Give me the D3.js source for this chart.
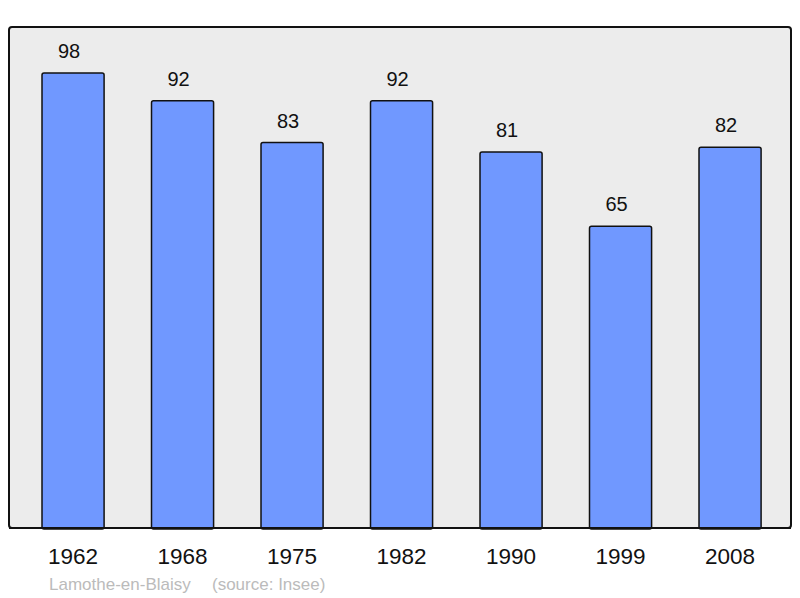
<!DOCTYPE html>
<html><head><meta charset="utf-8">
<script src="https://cdn.jsdelivr.net/npm/d3@7"></script>
<style>body{margin:0;background:#fff}svg{display:block}</style>
</head><body>
<script>
const years = ["1962","1968","1975","1982","1990","1999","2008"];
const population = [98, 92, 83, 92, 81, 65, 82];
const place = "Lamothe-en-Blaisy";
const source = "(source: Insee)";

const W = 800, H = 598;
const frame = {x0: 9, x1: 791, y0: 27, y1: 528};
const svg = d3.select("body").append("svg").attr("width", W).attr("height", H);

svg.append("rect").attr("x", frame.x0).attr("y", frame.y0)
  .attr("width", frame.x1 - frame.x0).attr("height", frame.y1 - frame.y0)
  .attr("rx", 3).attr("fill", "#ececec").attr("stroke", "#111").attr("stroke-width", 2);

const x = d3.scaleBand().domain(years).range([18.3, 784.8]).paddingInner(0.433).paddingOuter(0.2165);
const y = d3.scaleLinear().domain([0, 107.9]).range([frame.y1, frame.y0]);

const data = years.map((yr, i) => ({yr, v: population[i]}));

svg.selectAll("rect.bar").data(data).enter().append("rect").attr("class", "bar")
  .attr("x", d => x(d.yr)).attr("y", d => y(d.v))
  .attr("width", x.bandwidth()).attr("height", d => y(0) - y(d.v) + 1)
  .attr("rx", 2).attr("fill", "#7098ff").attr("stroke", "#111").attr("stroke-width", 1.5);

svg.append("line").attr("x1", frame.x0).attr("x2", frame.x1).attr("y1", frame.y1).attr("y2", frame.y1)
  .attr("stroke", "#111").attr("stroke-width", 2);

svg.selectAll("text.val").data(data).enter().append("text").attr("class", "val")
  .attr("x", d => x(d.yr) + x.bandwidth() / 2 - 4).attr("y", d => y(d.v) - 15)
  .attr("text-anchor", "middle").attr("font-family", "Liberation Sans, Arial, sans-serif")
  .attr("font-size", 20).attr("fill", "#111").text(d => d.v);

svg.selectAll("text.yr").data(data).enter().append("text").attr("class", "yr")
  .attr("x", d => x(d.yr) + x.bandwidth() / 2).attr("y", 564)
  .attr("text-anchor", "middle").attr("font-family", "Liberation Sans, Arial, sans-serif")
  .attr("font-size", 22.5).attr("fill", "#111").text(d => d.yr);

svg.append("text").attr("x", 49).attr("y", 590).attr("font-family", "Liberation Sans, Arial, sans-serif")
  .attr("font-size", 17).attr("fill", "#bbbbbb").text(place);
svg.append("text").attr("x", 212).attr("y", 590).attr("font-family", "Liberation Sans, Arial, sans-serif")
  .attr("font-size", 17).attr("fill", "#bbbbbb").text(source);
</script>
</body></html>
